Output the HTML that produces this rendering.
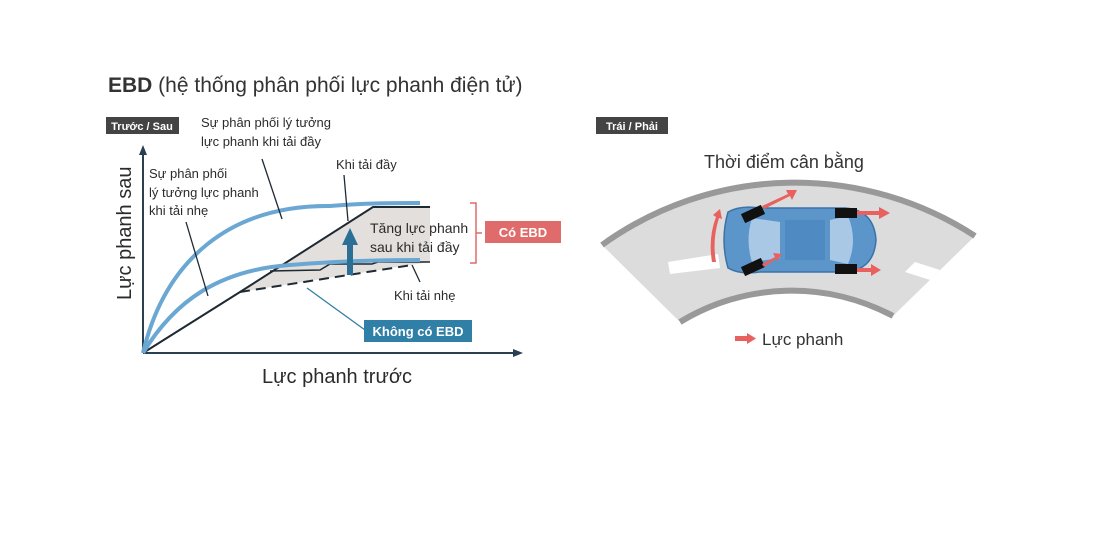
<!DOCTYPE html>
<html><head><meta charset="utf-8"><style>
body{margin:0;background:#fff;}
svg{display:block;font-family:"Liberation Sans",sans-serif;}
</style></head><body>
<svg width="1100" height="550" viewBox="0 0 1100 550" xmlns="http://www.w3.org/2000/svg">
<rect width="1100" height="550" fill="#fff"/>
<text x="108" y="92" font-size="21" fill="#333"><tspan font-weight="bold">EBD</tspan> (hệ thống phân phối lực phanh điện tử)</text>

<!-- left tag -->
<rect x="106" y="117" width="73" height="17" fill="#444"/>
<text x="142" y="130" font-size="11" font-weight="bold" fill="#fff" text-anchor="middle">Trước / Sau</text>

<!-- gray fill -->
<polygon points="240,292 373,207 430,207 430,262 410,265" fill="#e2dfdc"/>
<!-- axes -->
<line x1="143" y1="353" x2="143" y2="152" stroke="#2a3f4f" stroke-width="2"/>
<polygon points="143,145 139,155 147,155" fill="#2a3f4f"/>
<line x1="143" y1="353" x2="516" y2="353" stroke="#2a3f4f" stroke-width="2"/>
<polygon points="523,353 513,349 513,357" fill="#2a3f4f"/>
<!-- black line -->
<polyline points="143,353 240,292 373,207 430,207" fill="none" stroke="#1e2a33" stroke-width="2"/>
<line x1="240" y1="292" x2="412" y2="265" stroke="#1e2a33" stroke-width="2" stroke-dasharray="10,6"/>
<polyline points="270,271 320,270 330,264 372,264 378,262 430,262" fill="none" stroke="#1e2a33" stroke-width="1.5"/>
<!-- blue curves -->
<path d="M143,353 C165,260 230,205 330,206 C365,203 395,203 420,203" fill="none" stroke="#6aa7d2" stroke-width="4"/>
<path d="M143,353 C175,300 220,270 290,265 C340,261 380,260 420,260" fill="none" stroke="#6aa7d2" stroke-width="4"/>
<!-- up arrow -->
<rect x="347" y="243" width="6" height="32" fill="#2b6f96"/>
<polygon points="350,228 342,245 358,245" fill="#2b6f96"/>
<!-- leader lines -->
<line x1="262" y1="159" x2="282" y2="219" stroke="#1e2a33" stroke-width="1.3"/>
<line x1="186" y1="222" x2="208" y2="296" stroke="#1e2a33" stroke-width="1.3"/>
<line x1="344" y1="175" x2="348" y2="221" stroke="#1e2a33" stroke-width="1.3"/>
<line x1="412" y1="265" x2="420" y2="282" stroke="#1e2a33" stroke-width="1.3"/>
<line x1="307" y1="288" x2="365" y2="330" stroke="#2f7fa6" stroke-width="1.3"/>
<!-- labels -->
<text font-size="13" fill="#2b2b2b">
<tspan x="201" y="127">Sự phân phối lý tưởng</tspan>
<tspan x="201" y="146">lực phanh khi tải đầy</tspan>
<tspan x="149" y="178">Sự phân phối</tspan>
<tspan x="149" y="197">lý tưởng lực phanh</tspan>
<tspan x="149" y="215">khi tải nhẹ</tspan>
<tspan x="336" y="169">Khi tải đầy</tspan>
<tspan x="394" y="300">Khi tải nhẹ</tspan>
</text>
<text font-size="14" fill="#2b2b2b">
<tspan x="370" y="233">Tăng lực phanh</tspan>
<tspan x="370" y="252">sau khi tải đầy</tspan>
</text>
<text x="0" y="0" font-size="20" fill="#2b2b2b" transform="translate(131,300) rotate(-90)">Lực phanh sau</text>
<text x="262" y="383" font-size="20" fill="#2b2b2b">Lực phanh trước</text>
<!-- bracket -->
<path d="M470,203 H476 V263 H470 M476,233 H482" fill="none" stroke="#e06b6b" stroke-width="1.5"/>
<rect x="485" y="221" width="76" height="22" fill="#e06b6b"/>
<text x="523" y="237" font-size="13" font-weight="bold" fill="#fff" text-anchor="middle">Có EBD</text>
<rect x="364" y="320" width="108" height="22" fill="#2f7fa6"/>
<text x="418" y="336" font-size="13" font-weight="bold" fill="#fff" text-anchor="middle">Không có EBD</text>

<!-- right tag -->
<rect x="596" y="117" width="72" height="17" fill="#444"/>
<text x="632" y="130" font-size="11" font-weight="bold" fill="#fff" text-anchor="middle">Trái / Phải</text>
<text x="784" y="168" font-size="18" fill="#333" text-anchor="middle">Thời điểm cân bằng</text>

<!-- road -->
<path d="M602,245 A330,330 0 0 1 975,236 L893,316 A215,215 0 0 0 680,322 Z" fill="#dcdcdc"/>
<path d="M602,245 A330,330 0 0 1 975,236" fill="none" stroke="#999" stroke-width="6"/>
<path d="M680,322 A215,215 0 0 1 893,316" fill="none" stroke="#999" stroke-width="6"/>
<polygon points="668,262 718,254 720,268 670,274" fill="#fff"/>
<polygon points="915,262 940,270 930,280 905,272" fill="#fff"/>
<!-- car -->
<path d="M728,212 Q740,205 760,208 L845,208 Q874,210 876,240 Q874,270 845,272 L760,272 Q740,275 728,268 Q720,240 728,212 Z" fill="#5b95c9" stroke="#3a73a8" stroke-width="1.5"/>
<path d="M752,218 L780,222 L780,258 L752,262 Q745,240 752,218 Z" fill="#a9c8e6"/>
<path d="M830,220 L848,216 Q858,240 848,264 L830,260 Z" fill="#a9c8e6"/>
<rect x="785" y="220" width="40" height="40" fill="#4f8bc2"/>
<!-- tires -->
<rect x="742" y="209" width="22" height="10" fill="#111" transform="rotate(-25 753 214)"/>
<rect x="742" y="262" width="22" height="10" fill="#111" transform="rotate(-25 753 267)"/>
<rect x="835" y="208" width="22" height="10" fill="#111"/>
<rect x="835" y="264" width="22" height="10" fill="#111"/>
<!-- brake arrows -->
<g fill="#e8615e">
<path d="M762,206 L788,194 L786,190 L797,190 L792,200 L790,196 L764,209 Z"/>
<path d="M762,264 L775,257 L773,253 L782,254 L777,261 L776,259 L764,267 Z"/>
<rect x="857" y="211" width="22" height="4"/><polygon points="879,207 890,213 879,219"/>
<rect x="857" y="268" width="14" height="4"/><polygon points="871,264 881,270 871,276"/>
<path d="M712,262 Q708,238 716,217 L713,215 L720,209 L722,219 L719,218 Q712,240 716,262 Z"/>
<rect x="735" y="336" width="12" height="5"/><polygon points="747,333 756,338.5 747,344"/>
</g>
<text x="762" y="345" font-size="17" fill="#333">Lực phanh</text>
</svg>
</body></html>
